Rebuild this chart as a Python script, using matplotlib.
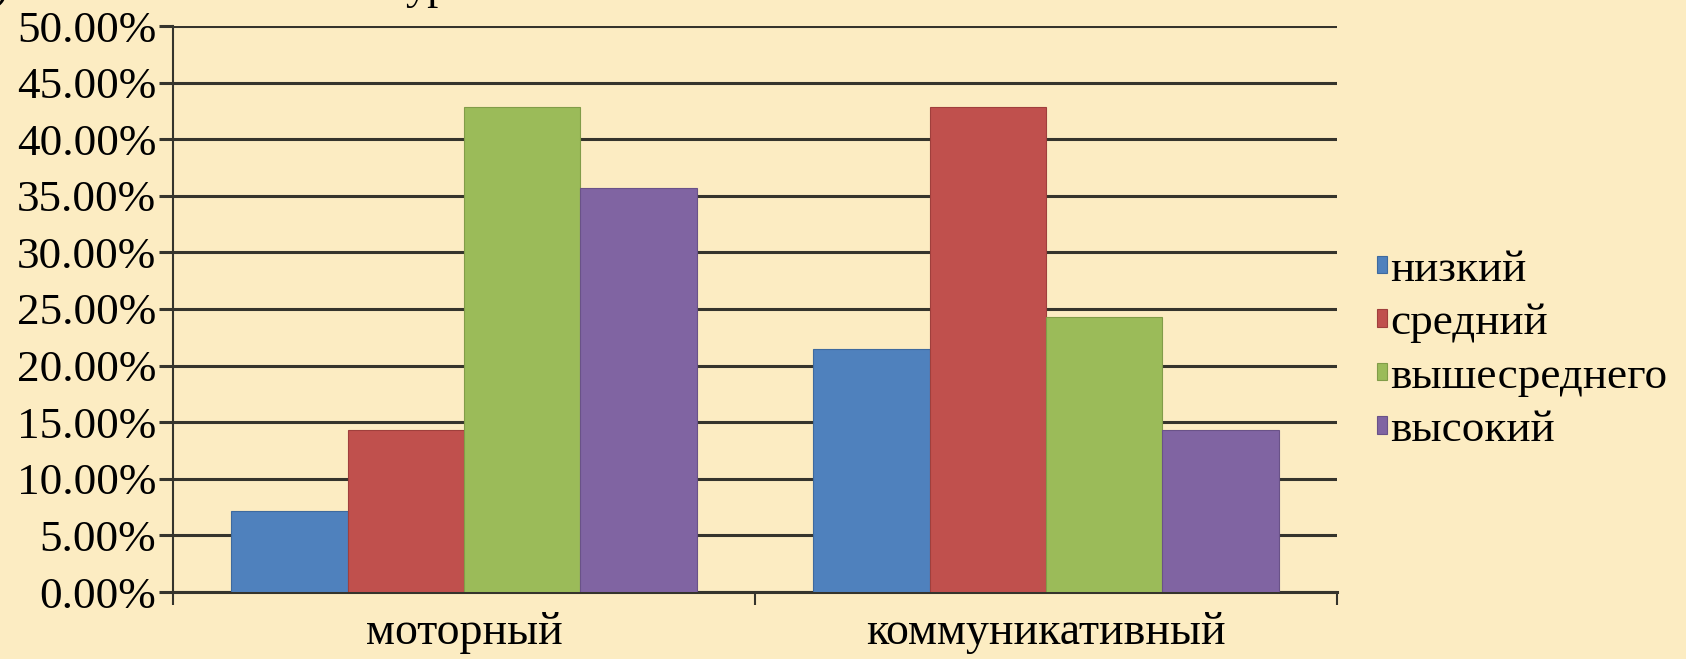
import matplotlib
matplotlib.use("Agg")
import matplotlib.pyplot as plt
import numpy as np
from matplotlib.ticker import FuncFormatter, FixedLocator

plt.rcParams['font.family'] = ['Liberation Serif', 'DejaVu Serif']

categories = ["моторный", "коммуникативный"]
series_names = ["низкий", "средний", "вышесреднего", "высокий"]
values = {
    "низкий": [7.14, 21.43],
    "средний": [14.29, 42.86],
    "вышесреднего": [42.86, 24.3],
    "высокий": [35.71, 14.29],
}
colors = ["#4f81bd", "#c0504d", "#9bbb59", "#8064a2"]
edge_colors = ["#3e6a9e", "#a03f3c", "#819c48", "#6a5288"]
yticks = [0, 5, 10, 15, 20, 25, 30, 35, 40, 45, 50]

bg = "#fcecc2"
gridc = "#35342c"

fig = plt.figure(figsize=(16.86, 6.59), dpi=100, facecolor=bg)
ax = fig.add_axes([173/1686, 1-592/659, (1337-173)/1686, (592-26)/659])
ax.set_facecolor(bg)

x = np.arange(len(categories))
w = 0.2
for i, name in enumerate(series_names):
    ax.bar(x - 0.3 + i*w, values[name], width=w, color=colors[i],
           edgecolor=edge_colors[i], linewidth=0.8, label=name, zorder=3)

ax.set_xlim(-0.5, 1.5)
ax.set_ylim(0, 50)
ax.set_yticks(yticks)
ax.yaxis.set_major_formatter(FuncFormatter(lambda v, p: f"{v:.2f}%"))
ax.grid(axis='y', color=gridc, linewidth=2.2, zorder=1)
ax.set_axisbelow(True)

ax.xaxis.set_major_locator(FixedLocator([-0.5, 0.5, 1.5]))
ax.xaxis.set_major_formatter(FuncFormatter(lambda v, p: ""))
ax.xaxis.set_minor_locator(FixedLocator(list(x)))
ax.set_xticklabels(categories, minor=True)
ax.tick_params(axis='x', which='major', direction='out', length=9, width=1.5, color=gridc)
ax.tick_params(axis='x', which='minor', length=0, pad=14, labelsize=33)
ax.tick_params(axis='y', direction='out', length=10, width=2.2, color=gridc, pad=2, labelsize=32.5)

for s in ['top', 'right']:
    ax.spines[s].set_visible(False)
ax.spines['left'].set_color(gridc)
ax.spines['left'].set_linewidth(1.5)
ax.spines['bottom'].set_color(gridc)
ax.spines['bottom'].set_linewidth(2.2)

leg = fig.legend(loc='center left', bbox_to_anchor=(1377/1686, 1-350/659),
                 frameon=False, fontsize=32.5, handlelength=0.22, handleheight=0.22,
                 handletextpad=0.08, labelspacing=0.3, borderpad=0, borderaxespad=0)

# partially visible caption at the very top (cropped in the original)
fig.text(9/1686, 1 + 1/659, "б)", ha='right', va='baseline', fontsize=32)
fig.text(405/1686, 1 + 1/659, "уровни", ha='left', va='baseline', fontsize=32)

fig.savefig("out.png", dpi=100, facecolor=bg)
